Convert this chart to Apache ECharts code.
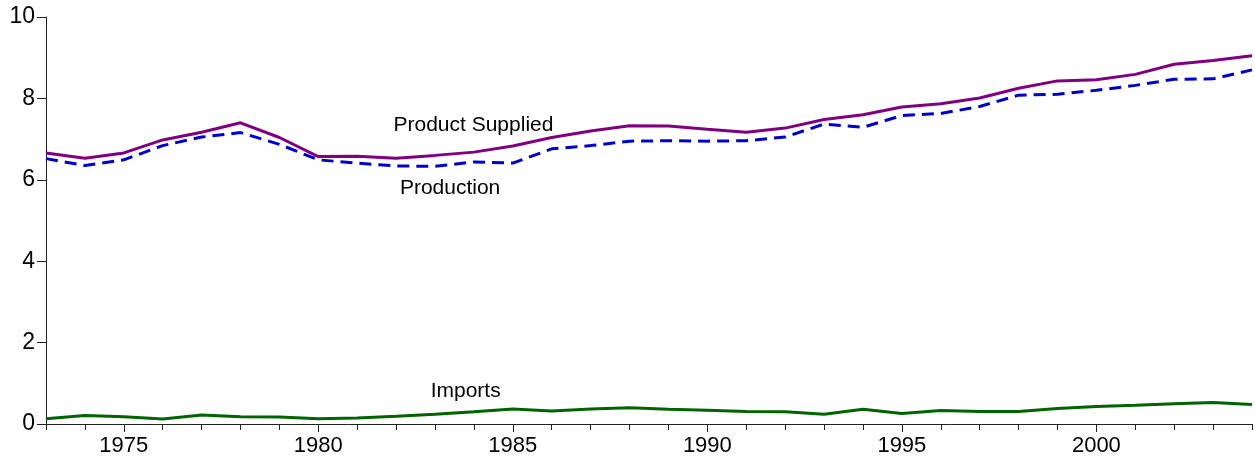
<!DOCTYPE html>
<html>
<head>
<meta charset="utf-8">
<script src="https://cdn.jsdelivr.net/npm/echarts@6/dist/echarts.min.js"></script>
<style>
  html, body { margin: 0; padding: 0; background: #fff; }
  #chart { width: 1255px; height: 467px; }
</style>
</head>
<body>
<div id="chart"></div>
<script>
const years = [1973,1974,1975,1976,1977,1978,1979,1980,1981,1982,1983,1984,1985,1986,1987,1988,
               1989,1990,1991,1992,1993,1994,1995,1996,1997,1998,1999,2000,2001,2002,2003,2004];
const productSupplied = [6.66,6.53,6.66,6.98,7.17,7.40,7.04,6.57,6.58,6.53,6.60,6.68,6.83,7.04,7.20,7.33,
                         7.32,7.24,7.17,7.27,7.48,7.60,7.79,7.87,8.01,8.25,8.43,8.46,8.59,8.84,8.93,9.05];
const production = [6.52,6.35,6.49,6.84,7.05,7.16,6.87,6.49,6.41,6.34,6.33,6.44,6.41,6.76,6.84,6.95,
                    6.96,6.95,6.96,7.05,7.37,7.29,7.58,7.63,7.80,8.08,8.10,8.20,8.32,8.47,8.48,8.70];
const imports = [0.13,0.21,0.18,0.12,0.22,0.18,0.17,0.13,0.15,0.19,0.24,0.30,0.37,0.32,0.37,0.40,
                 0.36,0.34,0.31,0.30,0.24,0.36,0.26,0.33,0.31,0.31,0.38,0.43,0.46,0.50,0.53,0.48];
const yTicks = [0, 2, 4, 6, 8, 10];
const seriesNames = ['Product Supplied', 'Production', 'Imports'];

// Annotation anchors, in data coordinates
const annotations = [
  { name: 'Product Supplied', value: [1984.0, 7.32] },
  { name: 'Production', value: [1983.4, 5.77] },
  { name: 'Imports', value: [1983.8, 0.80] }
];

const pair = arr => years.map((y, i) => [y, arr[i]]);
const axisColor = '#222';
const font = 'Arial, "Liberation Sans", sans-serif';

const chart = echarts.init(document.getElementById('chart'), null, { renderer: 'canvas' });
chart.setOption({
  animation: false,
  backgroundColor: '#fff',
  grid: { left: 46, right: 3, top: 17, bottom: 43, containLabel: false },
  xAxis: [
    {
      type: 'value', min: years[0], max: years[years.length - 1], interval: 1,
      splitLine: { show: false },
      axisLine: { show: true, lineStyle: { color: axisColor, width: 1 } },
      axisTick: { show: true, length: 6, lineStyle: { color: axisColor } },
      axisLabel: {
        show: true, margin: 11, fontSize: 22, color: '#000', fontFamily: font,
        formatter: v => (v % 5 === 0 ? String(v) : '')
      }
    },
    {
      type: 'category', data: years.map(String), boundaryGap: false, position: 'bottom',
      axisLine: { show: false },
      axisLabel: { show: false },
      splitLine: { show: false },
      axisTick: {
        show: true, length: 8, lineStyle: { color: axisColor },
        interval: (i, v) => Number(v) % 5 === 0
      }
    }
  ],
  yAxis: {
    type: 'value', min: yTicks[0], max: yTicks[yTicks.length - 1], interval: 2,
    splitLine: { show: false },
    axisLine: { show: true, lineStyle: { color: axisColor, width: 1 } },
    axisTick: { show: true, length: 9, lineStyle: { color: axisColor } },
    axisLabel: { margin: 11, fontSize: 23, color: '#000', fontFamily: font }
  },
  series: [
    {
      name: seriesNames[0], type: 'line', xAxisIndex: 0, data: pair(productSupplied),
      showSymbol: false, symbol: 'none',
      lineStyle: { color: '#800080', width: 3 }
    },
    {
      name: seriesNames[1], type: 'line', xAxisIndex: 0, data: pair(production),
      showSymbol: false, symbol: 'none',
      lineStyle: { color: '#0000CC', width: 3, type: [12, 7] }
    },
    {
      name: seriesNames[2], type: 'line', xAxisIndex: 0, data: pair(imports),
      showSymbol: false, symbol: 'none',
      lineStyle: { color: '#006400', width: 3 }
    },
    {
      name: 'labels', type: 'scatter', xAxisIndex: 0, data: annotations,
      symbolSize: 1, itemStyle: { color: 'rgba(255,255,255,0)', opacity: 1 },
      silent: true,
      label: {
        show: true, position: [0, 0], align: 'center', verticalAlign: 'middle',
        formatter: p => p.name, textBorderWidth: 0, opacity: 1,
        fontSize: 21, color: '#000', fontFamily: font
      }
    }
  ]
});
</script>
</body>
</html>
